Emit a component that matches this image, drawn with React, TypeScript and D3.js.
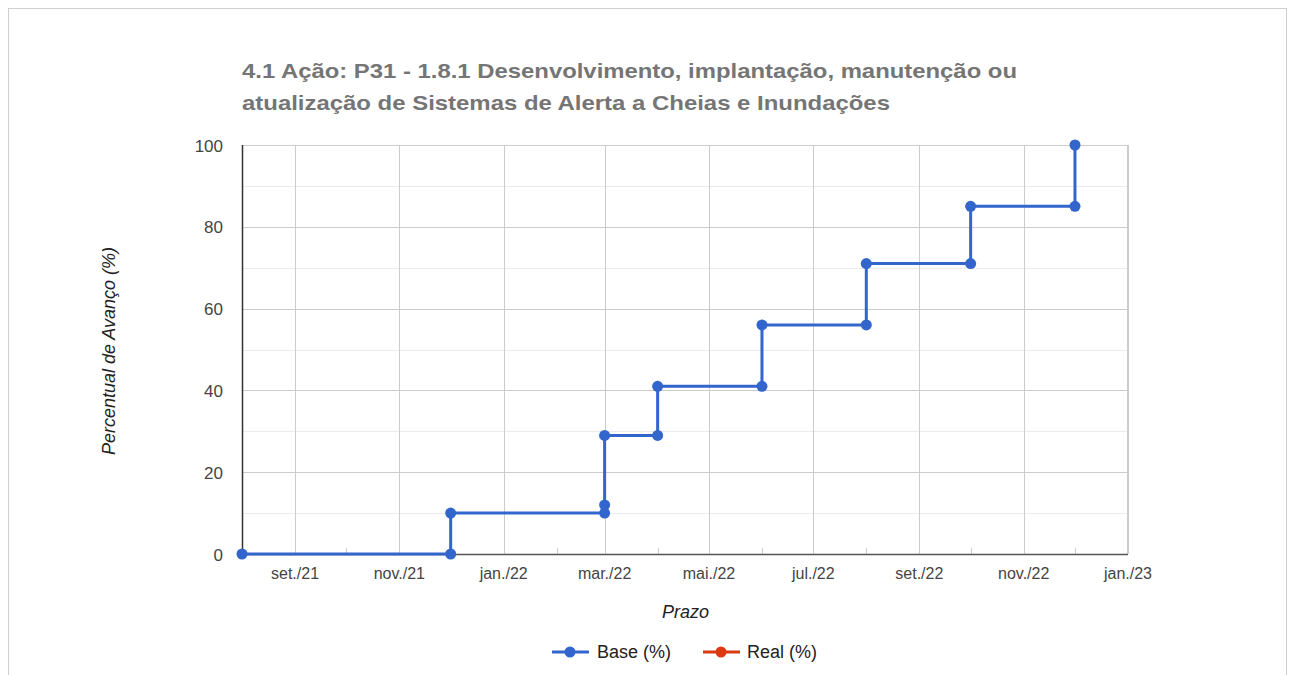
import React from "react";
import * as d3 from "d3";

const titleLines = [
  "4.1 Ação: P31 - 1.8.1 Desenvolvimento, implantação, manutenção ou",
  "atualização de Sistemas de Alerta a Cheias e Inundações",
];
const baseDates = [
  "2021-08-01", "2021-12-01", "2021-12-01", "2022-03-01", "2022-03-01", "2022-03-01",
  "2022-04-01", "2022-04-01", "2022-06-01", "2022-06-01", "2022-08-01", "2022-08-01",
  "2022-10-01", "2022-10-01", "2022-12-01", "2022-12-01",
];
const baseValues = [0, 0, 10, 10, 12, 29, 29, 41, 41, 56, 56, 71, 71, 85, 85, 100];
const realDates: string[] = [];
const realValues: number[] = [];
const yTicks = [0, 20, 40, 60, 80, 100];
const yMinor = [10, 30, 50, 70, 90];
const monthAbbr = ["jan.", "fev.", "mar.", "abr.", "mai.", "jun.", "jul.", "ago.", "set.", "out.", "nov.", "dez."];
const xDomain = ["2021-08-01", "2023-01-01"];
const seriesNames = ["Base (%)", "Real (%)"];
const seriesColors = ["#3366cc", "#dc3912"];
const yAxisTitle = "Percentual de Avanço (%)";
const xAxisTitle = "Prazo";

const parse = d3.utcParse("%Y-%m-%d");
const FONT = "Arial, 'Liberation Sans', sans-serif";

export default function App() {
  const left = 242, right = 1128, top = 145, bottom = 554;
  const x = d3.scaleUtc().domain(xDomain.map((d) => parse(d)!)).range([left, right]);
  const y = d3.scaleLinear().domain([0, 100]).range([bottom, top]);

  const months = d3.utcMonth.range(parse(xDomain[0])!, d3.utcDay.offset(parse(xDomain[1])!, 1));
  const majorMonths = months.filter((m) => m.getUTCMonth() % 2 === 0);
  const minorMonths = months.filter((m) => m.getUTCMonth() % 2 === 1);
  const fmt = (d: Date) => `${monthAbbr[d.getUTCMonth()]}/${String(d.getUTCFullYear()).slice(2)}`;

  const base = baseDates.map((d, i) => ({ date: parse(d)!, v: baseValues[i] }));
  const real = realDates.map((d, i) => ({ date: parse(d)!, v: realValues[i] }));
  const line = d3.line<{ date: Date; v: number }>().x((d) => x(d.date)).y((d) => y(d.v));

  const legendY = 652;
  const legendItems = [
    { x0: 552, tx: 597, w: 75 },
    { x0: 703, tx: 747, w: 72 },
  ];
  const titleWidths = [775, 648];

  return (
    <div style={{ position: "absolute", left: 0, top: 0 }}>
      <svg width={1292} height={675} style={{ display: "block", fontFamily: FONT }}>
        <rect x={0} y={0} width={1292} height={675} fill="#fff" />
        <rect x={8.5} y={8.5} width={1278} height={720} fill="none" stroke="#cfcfcf" strokeWidth={1} />
        {titleLines.map((t, i) => (
          <text
            key={i}
            x={242}
            y={78 + i * 32}
            fontSize={21}
            fontWeight="bold"
            fill="#757575"
            textLength={titleWidths[i]}
            lengthAdjust="spacingAndGlyphs"
          >
            {t}
          </text>
        ))}
        {yMinor.map((v) => (
          <line key={"ym" + v} x1={left} x2={right} y1={Math.round(y(v)) + 0.5} y2={Math.round(y(v)) + 0.5} stroke="#ebebeb" />
        ))}
        {yTicks.map((v) => (
          <line key={"y" + v} x1={left} x2={right} y1={Math.round(y(v)) + 0.5} y2={Math.round(y(v)) + 0.5} stroke="#cccccc" />
        ))}
        {majorMonths.map((m) => (
          <line key={"x" + m.toISOString()} x1={Math.round(x(m)) + 0.5} x2={Math.round(x(m)) + 0.5} y1={top} y2={bottom} stroke="#cccccc" />
        ))}
        <line x1={right - 0.5} x2={right - 0.5} y1={top} y2={bottom} stroke="#cccccc" />
        {minorMonths.map((m) => (
          <line key={"xm" + m.toISOString()} x1={Math.round(x(m)) + 0.5} x2={Math.round(x(m)) + 0.5} y1={bottom - 6} y2={bottom} stroke="#cccccc" />
        ))}
        <line x1={left} x2={right} y1={bottom + 0.5} y2={bottom + 0.5} stroke="#555" strokeWidth={1.5} />
        <line x1={left + 0.5} x2={left + 0.5} y1={top} y2={bottom} stroke="#333" strokeWidth={1.5} />
        {yTicks.map((v) => (
          <text key={"yl" + v} x={223} y={y(v) + 6.5} fontSize={17} textAnchor="end" fill="#444">
            {v}
          </text>
        ))}
        {majorMonths.filter((m) => x(m) > left + 5).map((m) => (
          <text key={"xl" + m.toISOString()} x={x(m)} y={579} fontSize={16} textAnchor="middle" fill="#444">
            {fmt(m)}
          </text>
        ))}
        <text
          transform={`translate(115,351) rotate(-90)`}
          fontSize={18}
          fontStyle="italic"
          textAnchor="middle"
          fill="#222"
        >
          {yAxisTitle}
        </text>
        <text x={685.5} y={618} fontSize={18} fontStyle="italic" textAnchor="middle" fill="#222">
          {xAxisTitle}
        </text>
        {[base, real].map((s, si) => (
          <g key={"s" + si}>
            {s.length > 0 && <path d={line(s) || ""} fill="none" stroke={seriesColors[si]} strokeWidth={3} />}
            {s.map((d, i) => (
              <circle key={i} cx={x(d.date)} cy={y(d.v)} r={5.5} fill={seriesColors[si]} />
            ))}
          </g>
        ))}
        {seriesNames.map((n, i) => (
          <g key={"lg" + i}>
            <line x1={legendItems[i].x0} x2={legendItems[i].x0 + 37} y1={legendY} y2={legendY} stroke={seriesColors[i]} strokeWidth={3} />
            <circle cx={legendItems[i].x0 + 18} cy={legendY} r={5.5} fill={seriesColors[i]} />
            <text x={legendItems[i].tx} y={legendY + 6} fontSize={18} fill="#222">
              {n}
            </text>
          </g>
        ))}
      </svg>
    </div>
  );
}
